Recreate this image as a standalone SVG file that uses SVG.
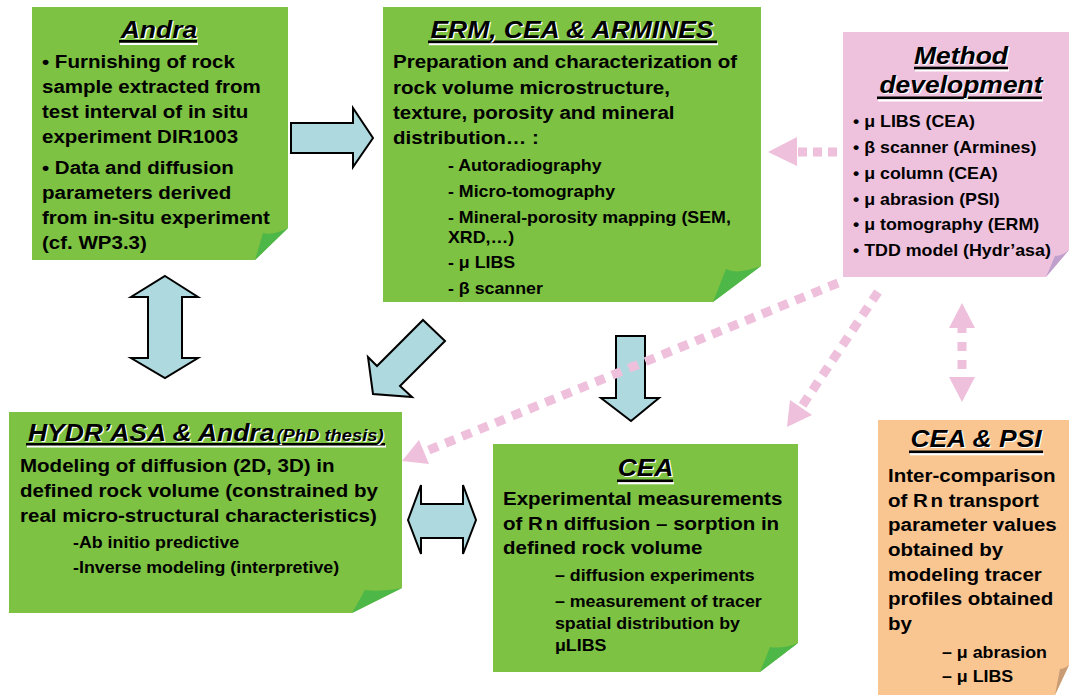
<svg xmlns="http://www.w3.org/2000/svg" width="1069" height="695" viewBox="0 0 1069 695">
  <style>
    .green { fill: #7DC242; }
    .green-fold { fill: #4DB748; }
    .pink { fill: #EEC1DD; }
    .pink-fold { fill: #BFA0CC; }
    .orange { fill: #F9C590; }
    .orange-fold { fill: #C89C74; }
    .txt { font-family: "Liberation Sans", Arial, sans-serif; font-weight: bold; fill: #000; }
    .title { font-style: italic; font-size: 24.5px; text-anchor: middle; }
    .title-l { font-style: italic; font-size: 24.5px; }
    .shadow { fill: #fff; }
    .body { font-size: 19px; }
    .sub { font-size: 16.5px; }
    .ul { fill: #000; }
    .ul-shadow { fill: #fff; }
    .blue { fill: #AED9DF; stroke: #000; stroke-width: 2; stroke-linejoin: miter; }
    .dots { fill: none; stroke: #EEC0DC; stroke-width: 9; }
    .head { fill: #EEC0DC; }
  </style>

  <!-- Andra -->
  <g id="andra">
    <polygon class="green" points="32,7 288,7 288,228 255,260 32,260"/>
    <path class="green-fold" d="M255,260 L263,233 Q272,236 288,228 Z"/>
    <rect class="ul-shadow" x="120" y="42.5" width="78" height="2.5"/>
    <rect class="ul" x="119" y="40" width="78" height="2.7"/>
    <g transform="matrix(1.08 0 0 1 -3.36 0)">
      <text class="txt title shadow" x="151.5" y="39.3">Andra</text>
      <text class="txt title" x="150.3" y="38.3">Andra</text>
      <text class="txt body" x="42" y="68">• Furnishing of rock</text>
      <text class="txt body" x="42" y="93">sample extracted from</text>
      <text class="txt body" x="42" y="118">test interval of in situ</text>
      <text class="txt body" x="42" y="143">experiment DIR1003</text>
      <text class="txt body" x="42" y="174">• Data and diffusion</text>
      <text class="txt body" x="42" y="199">parameters derived</text>
      <text class="txt body" x="42" y="224">from in-situ experiment</text>
      <text class="txt body" x="42" y="249">(cf. WP3.3)</text>
    </g>
  </g>

  <!-- ERM, CEA & ARMINES -->
  <g id="erm">
    <polygon class="green" points="383,7 761,7 761,266 713,302 383,302"/>
    <path class="green-fold" d="M713,302 L726,269 Q737,275 761,266 Z"/>
    <rect class="ul-shadow" x="429" y="42.7" width="289" height="2.5"/>
    <rect class="ul" x="428" y="40.5" width="289" height="2.7"/>
    <g transform="matrix(1.08 0 0 1 -31.44 0)">
      <text class="txt title shadow" x="559.9" y="39">ERM, CEA &amp; ARMINES</text>
      <text class="txt title" x="558.7" y="38">ERM, CEA &amp; ARMINES</text>
      <text class="txt body" x="393" y="68">Preparation and characterization of</text>
      <text class="txt body" x="393" y="94">rock volume microstructure,</text>
      <text class="txt body" x="393" y="119">texture, porosity and mineral</text>
      <text class="txt body" x="393" y="144">distribution… :</text>
      <text class="txt sub" x="443.9" y="171">- Autoradiography</text>
      <text class="txt sub" x="443.9" y="197">- Micro-tomography</text>
      <text class="txt sub" x="443.9" y="223">- Mineral-porosity mapping (SEM,</text>
      <text class="txt sub" x="443.9" y="243">XRD,…)</text>
      <text class="txt sub" x="443.9" y="268">- μ LIBS</text>
      <text class="txt sub" x="443.9" y="294">- β scanner</text>
    </g>
  </g>

  <!-- Method development -->
  <g id="method">
    <polygon class="pink" points="843,32 1069,32 1069,250 1046,277 843,277"/>
    <path class="pink-fold" d="M1046,277 L1055,256 Q1062,256 1069,250 Z"/>
    <rect class="ul-shadow" x="915" y="69" width="94" height="2.5"/>
    <rect class="ul" x="914" y="66.7" width="94" height="2.6"/>
    <rect class="ul-shadow" x="878" y="99" width="165" height="2.5"/>
    <rect class="ul" x="877" y="96.5" width="165" height="2.6"/>
    <g transform="matrix(1.08 0 0 1 -68.24 0)">
      <text class="txt title shadow" x="954.2" y="65">Method</text>
      <text class="txt title" x="953" y="64">Method</text>
      <text class="txt title shadow" x="954.2" y="94.5">development</text>
      <text class="txt title" x="953" y="93.5">development</text>
      <text class="txt sub" x="853" y="127">• μ LIBS (CEA)</text>
      <text class="txt sub" x="853" y="153">• β scanner (Armines)</text>
      <text class="txt sub" x="853" y="179">• μ column (CEA)</text>
      <text class="txt sub" x="853" y="205">• μ abrasion (PSI)</text>
      <text class="txt sub" x="853" y="230">• μ tomography (ERM)</text>
      <text class="txt sub" x="853" y="256">• TDD model (Hydr’asa)</text>
    </g>
  </g>

  <!-- HYDR'ASA & Andra -->
  <g id="hydrasa">
    <polygon class="green" points="9,412 402,412 402,588 352,613 9,613"/>
    <path class="green-fold" d="M352,613 L365,590 Q380,592 402,588 Z"/>
    <rect class="ul-shadow" x="27" y="445.2" width="359" height="2.3"/>
    <rect class="ul" x="26" y="443" width="359" height="2.5"/>
    <g transform="matrix(1.08 0 0 1 -1.6 0)">
      <text class="txt title-l shadow" x="28.6" y="442.5">HYDR’ASA &amp; Andra<tspan font-size="17" dx="2">(PhD thesis)</tspan></text>
      <text class="txt title-l" x="27.4" y="441.5">HYDR’ASA &amp; Andra<tspan font-size="17" dx="2">(PhD thesis)</tspan></text>
      <text class="txt body" x="20" y="472">Modeling of diffusion (2D, 3D) in</text>
      <text class="txt body" x="20" y="497">defined rock volume (constrained by</text>
      <text class="txt body" x="20" y="522">real micro-structural characteristics)</text>
      <text class="txt sub" x="69.1" y="548">-Ab initio predictive</text>
      <text class="txt sub" x="69.1" y="573">-Inverse modeling (interpretive)</text>
    </g>
  </g>

  <!-- CEA -->
  <g id="cea">
    <polygon class="green" points="493,444 798,444 798,643 760,672 493,672"/>
    <path class="green-fold" d="M760,672 L770,647 Q783,649 798,643 Z"/>
    <rect class="ul-shadow" x="618" y="482" width="56" height="2.3"/>
    <rect class="ul" x="617" y="479.5" width="56" height="2.6"/>
    <g transform="matrix(1.08 0 0 1 -40.24 0)">
      <text class="txt title shadow" x="636.2" y="477">CEA</text>
      <text class="txt title" x="635" y="476">CEA</text>
      <text class="txt body" x="503" y="505">Experimental measurements</text>
      <text class="txt body" x="503" y="530">of R<tspan dx="2.5">n diffusion – sorption in</tspan></text>
      <text class="txt body" x="503" y="554">defined rock volume</text>
      <text class="txt sub" x="551.1" y="581">– diffusion experiments</text>
      <text class="txt sub" x="551.1" y="607">– measurement of tracer</text>
      <text class="txt sub" x="551.1" y="629">spatial distribution by</text>
      <text class="txt sub" x="551.1" y="651">μLIBS</text>
    </g>
  </g>

  <!-- CEA & PSI -->
  <g id="cea-psi">
    <polygon class="orange" points="878,420 1069,420 1069,665 1055,695 878,695"/>
    <path class="orange-fold" d="M1055,695 L1060,669 Q1064,669 1069,665 Z"/>
    <rect class="ul-shadow" x="910" y="453" width="134" height="2.3"/>
    <rect class="ul" x="909" y="450.5" width="134" height="2.6"/>
    <g transform="matrix(1.08 0 0 1 -71.04 0)">
      <text class="txt title shadow" x="970.7" y="448">CEA &amp; PSI</text>
      <text class="txt title" x="969.5" y="447">CEA &amp; PSI</text>
      <text class="txt body" x="888" y="482">Inter-comparison</text>
      <text class="txt body" x="888" y="506.7">of R<tspan dx="2.5">n transport</tspan></text>
      <text class="txt body" x="888" y="531.4">parameter values</text>
      <text class="txt body" x="888" y="556">obtained by</text>
      <text class="txt body" x="888" y="580.8">modeling tracer</text>
      <text class="txt body" x="888" y="605.5">profiles obtained</text>
      <text class="txt body" x="888" y="630.2">by</text>
      <text class="txt sub" x="938" y="658">– μ abrasion</text>
      <text class="txt sub" x="938" y="682">– μ LIBS</text>
    </g>
  </g>

  <!-- Connectors -->
  <g id="connectors">
    <!-- block arrows -->
    <polygon class="blue" points="291,123 353,123 353,108 373,138 353,167 353,153 291,153"/>
    <polygon class="blue" points="165,276 198,297 182,297 182,358 198,358 165,378 131,358 148,358 148,297 131,297"/>
    <polygon class="blue" points="423,320 445,341 400,386 412,397 373,394 368,357 377,366"/>
    <polygon class="blue" points="616,336 645,336 645,398 659,398 631,421 601,398 616,398"/>
    <polygon class="blue" points="408,520 421,485 421,504 463,504 463,485 476,520 463,554 463,538 421,538 421,554"/>

    <!-- dotted links from method development -->
    <path class="dots" d="M837,152 L797,152" stroke-dasharray="9 6"/>
    <polygon class="head" points="768,152 797,137 797,166"/>

    <path class="dots" d="M838,283 L424,452" stroke-dasharray="10 8"/>
    <polygon class="head" points="402,461 429,464 419,440"/>

    <path class="dots" d="M878,292 L801,407.5" stroke-dasharray="10 8"/>
    <polygon class="head" points="787,427 812,415 790,400"/>

    <path class="dots" d="M962,324 L962,381" stroke-width="8" stroke-dasharray="9 9"/>
    <polygon class="head" points="962,303 949,328 975,328"/>
    <polygon class="head" points="962,402 949,377 975,377"/>
  </g>
</svg>
